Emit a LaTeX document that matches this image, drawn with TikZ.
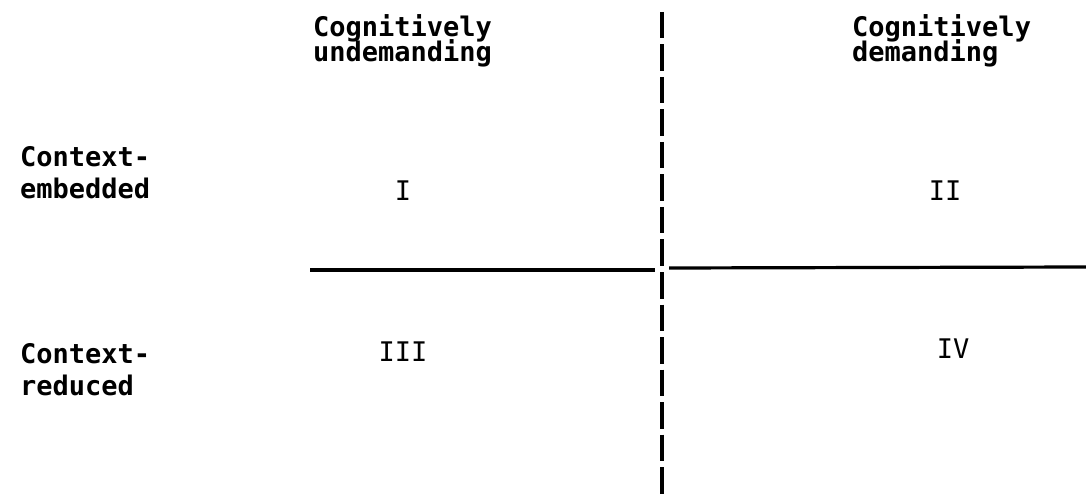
\documentclass[tikz,border=0pt]{standalone}
\usepackage{fontspec}
\newfontfamily\printfont{DejaVu Sans Mono}
\usetikzlibrary{positioning}

\tikzset{
  lbl/.style={anchor=base west, inner sep=0pt, font=\printfont\bfseries\fontsize{27}{27}\selectfont},
  numeral/.style={anchor=center, inner sep=0pt, font=\printfont\fontsize{27}{27}\selectfont},
  rule/.style={line width=3.2pt},
  divider/.style={line width=3.2pt, dash pattern=on 26.5pt off 6pt}
}

\begin{document}
\begin{tikzpicture}[x=1pt, y=-1pt]
  \useasboundingbox (0,0) rectangle (1086,494);

  % column headings
  \node[lbl] (undemA) at (313,37) {Cognitively};
  \node[lbl] (undemB) at ([yshift=-25pt]undemA.base west) {undemanding};
  \node[lbl] (demA) at (852,37) {Cognitively};
  \node[lbl] (demB) at ([yshift=-25pt]demA.base west) {demanding};

  % row headings
  \node[lbl] (embA) at (20,167) {Context-};
  \node[lbl] (embB) at ([yshift=-32pt]embA.base west) {embedded};
  \node[lbl] (redA) at (20,363) {Context-};
  \node[lbl] (redB) at ([yshift=-32pt]redA.base west) {reduced};

  % quadrants
  \node[numeral] (q1) at (403,191) {I};
  \node[numeral] (q2) at (945,191) {II};
  \node[numeral] (q3) at (403,352) {III};
  \node[numeral] (q4) at (953,349) {IV};

  % axes
  \coordinate (top) at (662,12);
  \coordinate (bottom) at (662,494);
  \coordinate (leftend) at (310,270);
  \coordinate (leftgap) at (655,270);
  \coordinate (rightgap) at (669,268);
  \coordinate (rightend) at (1086,267);
  \draw[divider] (top) -- (bottom);
  \draw[rule] (leftend) -- (leftgap);
  \draw[rule] (rightgap) -- (rightend);
\end{tikzpicture}
\end{document}
